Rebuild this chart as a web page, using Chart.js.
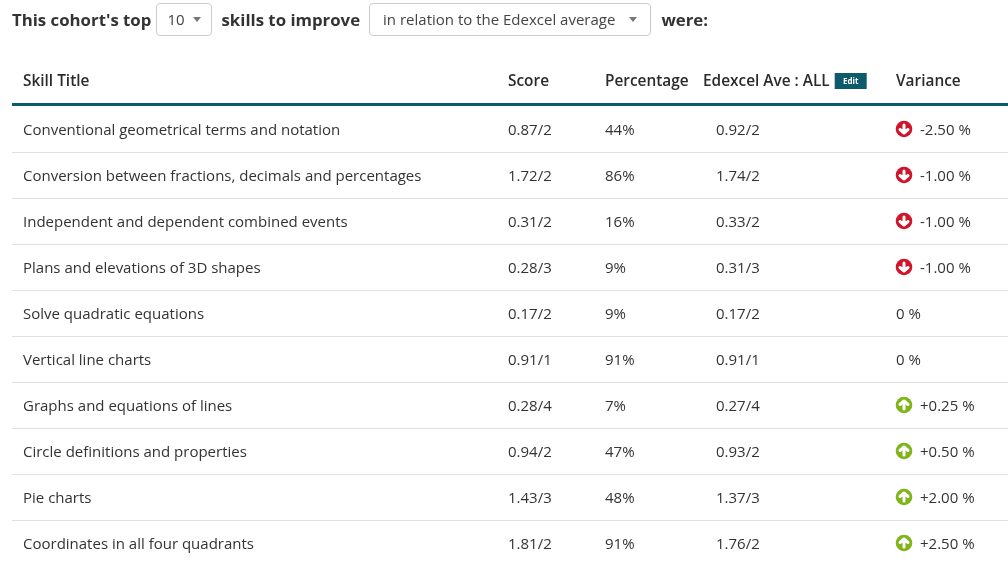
<!DOCTYPE html>
<html lang="en">
<head>
    <meta charset="UTF-8">
    <title>Top skills to improve</title>
    <script src="https://cdn.jsdelivr.net/npm/chart.js"></script>
    <style>
        body { margin: 0; background: #fff; font-family: "Open Sans", sans-serif; color: #333; }
        #wrap { position: absolute; left: 0; top: 0; width: 1008px; height: 576px; }
        .bar { position: absolute; left: 12px; top: 1px; height: 36px; display: flex; align-items: center; white-space: nowrap; }
        .lbl { font-size: 16.8px; font-weight: 700; color: #333; }
        .sel { height: 33px; border: 1px solid #ccc; border-radius: 4px; box-sizing: border-box; display: flex; align-items: center;
               padding: 0 12px; font-size: 15px; color: #444; background: #fff; }
        .caret { display: inline-block; width: 0; height: 0; border-left: 4px solid transparent; border-right: 4px solid transparent;
                 border-top: 5px solid #777; margin-left: 8px; }
    </style>
</head>
<body>
    <div id="wrap"><canvas id="skillTable"></canvas></div>
    <div class="bar">
        <span class="lbl">This cohort's top</span>
        <span class="sel" style="margin-left:5px;padding:0 10px;">10<span class="caret"></span></span>
        <span class="lbl" style="margin-left:10px;">skills to improve</span>
        <span class="sel" style="margin-left:9px;padding:0 13px;">in relation to the Edexcel average<span class="caret" style="margin-left:14px;"></span></span>
        <span class="lbl" style="margin-left:10px;">were:</span>
    </div>

    <script>
        var skills = [
            'Conventional geometrical terms and notation',
            'Conversion between fractions, decimals and percentages',
            'Independent and dependent combined events',
            'Plans and elevations of 3D shapes',
            'Solve quadratic equations',
            'Vertical line charts',
            'Graphs and equations of lines',
            'Circle definitions and properties',
            'Pie charts',
            'Coordinates in all four quadrants'
        ];
        var scores = [0.87, 1.72, 0.31, 0.28, 0.17, 0.91, 0.28, 0.94, 1.43, 1.81];
        var maxMarks = [2, 2, 2, 3, 2, 1, 4, 2, 3, 2];
        var percentages = [44, 86, 16, 9, 9, 91, 7, 47, 48, 91];
        var edexcelAve = [0.92, 1.74, 0.33, 0.31, 0.17, 0.91, 0.27, 0.93, 1.37, 1.76];
        var variance = [-2.5, -1, -1, -1, 0, 0, 0.25, 0.5, 2, 2.5];
        var headers = ['Skill Title', 'Score', 'Percentage', 'Edexcel Ave : ALL', 'Variance'];

        // column x positions (layout only)
        var colX = [23, 508, 605, 716, 920];
        var headX = [23, 508, 605, 703, 896];

        function fmtVariance(v) {
            if (v === 0) return '0 %';
            return (v > 0 ? '+' : '') + v.toFixed(2) + ' %';
        }

        function drawArrow(ctx, cx, cy, up) {
            ctx.save();
            ctx.beginPath();
            ctx.arc(cx, cy, 8.3, 0, Math.PI * 2);
            ctx.fillStyle = up ? '#7fb51a' : '#d0152a';
            ctx.fill();
            ctx.strokeStyle = '#fff';
            ctx.lineWidth = 3;
            ctx.lineCap = 'round';
            ctx.lineJoin = 'round';
            var d = up ? -1 : 1;
            ctx.beginPath();
            ctx.moveTo(cx, cy - 4 * d);
            ctx.lineTo(cx, cy + 4 * d);
            ctx.moveTo(cx - 4, cy + 0.5 * d);
            ctx.lineTo(cx, cy + 4 * d);
            ctx.lineTo(cx + 4, cy + 0.5 * d);
            ctx.stroke();
            ctx.restore();
        }

        var tablePlugin = {
            id: 'tableCells',
            afterDraw: function (chart) {
                var ctx = chart.ctx;
                var xs = chart.scales.x;
                var ys = chart.scales.y;
                var area = chart.chartArea;
                ctx.save();

                // header row
                var hy = area.top - 25;
                ctx.font = '600 15.4px "Open Sans"';
                ctx.fillStyle = '#2b2b2b';
                ctx.textBaseline = 'middle';
                ctx.textAlign = 'left';
                headers.forEach(function (h, i) {
                    ctx.fillText(h, xs.getPixelForValue(headX[i]), hy + 1);
                });
                var editX = xs.getPixelForValue(headX[3]) + ctx.measureText(headers[3]).width + 5;
                ctx.fillStyle = '#0e5a6d';
                ctx.fillRect(editX, hy - 8, 32, 16);
                ctx.fillStyle = '#fff';
                ctx.font = '700 8px "Open Sans"';
                ctx.textAlign = 'center';
                ctx.fillText('Edit', editX + 16, hy + 0.5);

                // thick rule under header
                ctx.fillStyle = '#0e5a6d';
                ctx.fillRect(area.left, area.top - 3, area.right - area.left, 3);

                // body cells
                ctx.font = '15px "Open Sans"';
                ctx.textAlign = 'left';
                skills.forEach(function (s, i) {
                    var y = ys.getPixelForValue(i);
                    var ty = y + 2;
                    ctx.fillStyle = '#333';
                    ctx.fillText(s, xs.getPixelForValue(colX[0]), ty);
                    ctx.fillText(scores[i].toFixed(2) + '/' + maxMarks[i], xs.getPixelForValue(colX[1]), ty);
                    ctx.fillText(percentages[i] + '%', xs.getPixelForValue(colX[2]), ty);
                    ctx.fillText(edexcelAve[i].toFixed(2) + '/' + maxMarks[i], xs.getPixelForValue(colX[3]), ty);
                    var v = variance[i];
                    if (v !== 0) {
                        drawArrow(ctx, xs.getPixelForValue(headX[4]) + 8, y, v > 0);
                        ctx.fillStyle = '#333';
                        ctx.fillText(fmtVariance(v), xs.getPixelForValue(colX[4]), ty);
                    } else {
                        ctx.fillText(fmtVariance(v), xs.getPixelForValue(headX[4]), ty);
                    }
                });
                ctx.restore();
            }
        };

        var chart = new Chart(document.getElementById('skillTable').getContext('2d'), {
            type: 'bar',
            data: {
                labels: skills,
                datasets: []
            },
            options: {
                indexAxis: 'y',
                responsive: true,
                maintainAspectRatio: false,
                animation: false,
                layout: { padding: { top: 106, bottom: 10, left: 12, right: 0 } },
                plugins: { legend: { display: false }, tooltip: { enabled: false } },
                scales: {
                    x: { type: 'linear', min: 12, max: 1008, display: false },
                    y: {
                        type: 'category',
                        offset: true,
                        ticks: { display: false },
                        border: { display: false },
                        grid: {
                            offset: true,
                            drawTicks: false,
                            tickLength: 0,
                            lineWidth: 1,
                            color: function (c) {
                                if (typeof c.index !== 'number' || c.index === 0) return 'rgba(0,0,0,0)';
                                return '#e0e0e6';
                            }
                        }
                    }
                }
            },
            plugins: [tablePlugin]
        });
    </script>
</body>
</html>
